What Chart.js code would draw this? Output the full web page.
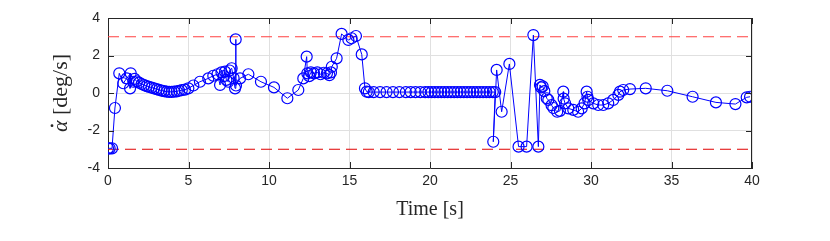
<!DOCTYPE html>
<html>
<head>
<meta charset="utf-8">
<script src="https://cdn.jsdelivr.net/npm/chart.js@4.4.1/dist/chart.umd.min.js"></script>
<style>
  html, body { margin: 0; padding: 0; background: #fff; }
</style>
</head>
<body>
<canvas id="rateChart" width="830" height="241"></canvas>
<script>
// time stamps [s] and yaw-rate samples [deg/s]
const timeS = [
  0.00, 0.10, 0.25, 0.43, 0.70, 0.95, 1.16, 1.41, 1.37, 1.57, 1.65, 1.78, 1.93, 2.09, 2.25, 2.40,
  2.55, 2.71, 2.86, 3.02, 3.17, 3.33, 3.48, 3.64, 3.80, 3.95, 4.11, 4.27, 4.42, 4.58, 4.78, 4.99,
  5.30, 5.71, 6.23, 6.54, 6.80, 6.96, 7.05, 7.20, 7.27, 7.35, 7.47, 7.55, 7.68, 7.80, 7.89, 7.93,
  7.95, 8.20, 8.72, 9.50, 10.31, 11.14, 11.82, 12.13, 12.34, 12.38, 12.50, 12.60, 12.80, 13.00,
  13.20, 13.40, 13.60, 13.75, 13.85, 13.90, 14.20, 14.51, 14.93, 15.13, 15.40, 15.76, 15.96, 16.07,
  16.20, 16.50, 16.90, 17.30, 17.70, 18.10, 18.50, 18.80, 19.10, 19.40, 19.70, 19.90, 20.10, 20.30,
  20.50, 20.70, 20.90, 21.10, 21.30, 21.50, 21.70, 21.90, 22.10, 22.30, 22.50, 22.70, 22.90, 23.10,
  23.30, 23.50, 23.70, 23.90, 24.05, 23.93, 24.14, 24.45, 24.93, 25.50, 26.00, 26.42, 26.73, 26.83,
  26.90, 27.00, 27.10, 27.25, 27.35, 27.55, 27.66, 27.90, 28.07, 28.28, 28.30, 28.39, 28.59, 28.90,
  29.20, 29.42, 29.60, 29.73, 29.78, 29.83, 30.14, 30.45, 30.76, 31.07, 31.38, 31.70, 31.80, 32.00,
  32.42, 33.40, 34.74, 36.31, 37.76, 38.97, 39.67, 39.88
];
const alphaDot = [
  -2.95, -2.95, -2.95, -0.80, 1.05, 0.52, 0.78, 1.05, 0.25, 0.60, 0.75, 0.62, 0.55, 0.48, 0.42, 0.37,
  0.33, 0.29, 0.25, 0.21, 0.17, 0.13, 0.10, 0.07, 0.06, 0.06, 0.07, 0.09, 0.12, 0.15, 0.18, 0.25,
  0.40, 0.60, 0.78, 0.92, 1.00, 0.43, 1.10, 0.90, 1.14, 0.70, 0.60, 1.20, 1.32, 0.80, 0.25, 2.86,
  0.40, 0.78, 1.00, 0.60, 0.30, -0.28, 0.16, 0.78, 1.94, 1.05, 0.90, 1.10, 1.05, 1.10,
  1.00, 1.08, 1.05, 0.95, 1.10, 1.40, 1.85, 3.15, 2.83, 2.92, 3.04, 2.06, 0.25, 0.07,
  0.05, 0.05, 0.05, 0.05, 0.05, 0.05, 0.05, 0.05, 0.05, 0.05, 0.05, 0.05, 0.05, 0.05,
  0.05, 0.05, 0.05, 0.05, 0.05, 0.05, 0.05, 0.05, 0.05, 0.05, 0.05, 0.05, 0.05, 0.05,
  0.05, 0.05, 0.05, 0.05, 0.05, -2.60, 1.23, -1.00, 1.55, -2.86, -2.86, 3.09, -2.86, 0.43,
  0.30, 0.35, 0.10, -0.28, -0.37, -0.65, -0.80, -1.00, -0.95, 0.07, -0.30, -0.55, -0.82, -0.90,
  -1.00, -0.82, -0.55, 0.07, -0.20, -0.37, -0.55, -0.64, -0.64, -0.55, -0.37, -0.10, 0.07, 0.16,
  0.21, 0.25, 0.12, -0.20, -0.50, -0.59, -0.23, -0.20
];
const rateLimits = [3, -3];
const timeRange = [0, 40];
const xTicks = [0, 5, 10, 15, 20, 25, 30, 35, 40];
const yTicks = [-4, -2, 0, 2, 4];

const axisColor = '#262626';
const points = timeS.map((t, i) => ({ x: t, y: alphaDot[i] }));
const limitLine = (v, color) => ({
  data: timeRange.map(t => ({ x: t, y: v })),
  borderColor: color,
  borderWidth: 1,
  borderDash: [11, 6],
  pointRadius: 0,
  showLine: true,
  order: 2
});

// y label with italic dotted alpha, and MATLAB style inward ticks + box
const decor = {
  id: 'decor',
  afterDraw(chart) {
    const { ctx, chartArea: a, scales: { x, y } } = chart;
    ctx.save();
    ctx.strokeStyle = axisColor;
    ctx.lineWidth = 1;
    ctx.beginPath();
    ctx.moveTo(a.left, a.top + 0.5); ctx.lineTo(a.right, a.top + 0.5);
    ctx.moveTo(a.right - 0.5, a.top); ctx.lineTo(a.right - 0.5, a.bottom);
    xTicks.forEach(v => {
      const px = Math.round(x.getPixelForValue(v)) + 0.5;
      ctx.moveTo(px, a.bottom); ctx.lineTo(px, a.bottom - 6);
      ctx.moveTo(px, a.top); ctx.lineTo(px, a.top + 6);
    });
    yTicks.forEach(v => {
      const py = Math.round(y.getPixelForValue(v)) + 0.5;
      ctx.moveTo(a.left, py); ctx.lineTo(a.left + 6, py);
      ctx.moveTo(a.right, py); ctx.lineTo(a.right - 6, py);
    });
    ctx.stroke();

    ctx.translate(60, (a.top + a.bottom) / 2);
    ctx.rotate(-Math.PI / 2);
    ctx.fillStyle = axisColor;
    ctx.textBaseline = 'alphabetic';
    const f1 = 'italic 22px "Liberation Serif"', f2 = '22px "Liberation Serif"';
    const s1 = 'α', s2 = ' [deg/s]';
    ctx.font = f1; const w1 = ctx.measureText(s1).width;
    ctx.font = f2; const w2 = ctx.measureText(s2).width;
    const sx = -(w1 + w2) / 2, base = 7;
    ctx.font = f1; ctx.fillText(s1, sx, base);
    ctx.font = f2; ctx.fillText(s2, sx + w1, base);
    // dot accent over alpha
    ctx.beginPath();
    ctx.arc(sx + w1 * 0.55, base - 15, 1.4, 0, Math.PI * 2);
    ctx.fill();
    ctx.restore();
  }
};

new Chart(document.getElementById('rateChart'), {
  type: 'scatter',
  data: {
    datasets: [
      {
        data: points,
        showLine: true,
        borderColor: '#0000ff',
        borderWidth: 1,
        pointStyle: 'circle',
        pointRadius: 5.5,
        pointBorderWidth: 1.2,
        pointBorderColor: '#0000ff',
        pointBackgroundColor: 'rgba(0,0,0,0)',
        order: 1
      },
      limitLine(rateLimits[0], '#ff4040'),
      limitLine(rateLimits[1], '#e00000')
    ]
  },
  options: {
    responsive: false,
    animation: false,
    devicePixelRatio: 1,
    layout: { padding: { left: 0, right: 78, top: 18, bottom: 0 } },
    plugins: { legend: { display: false }, tooltip: { enabled: false } },
    scales: {
      x: {
        type: 'linear',
        min: 0, max: 40,
        afterFit(s) { s.height = 73; },
        afterBuildTicks(s) { s.ticks = xTicks.map(v => ({ value: v })); },
        grid: { color: '#e0e0e0', drawTicks: false },
        border: { color: axisColor, width: 1 },
        ticks: { padding: 5, color: axisColor, font: { family: '"Liberation Sans"', size: 14 } },
        title: {
          display: true,
          text: 'Time [s]',
          color: axisColor,
          padding: { top: 0, bottom: 19 },
          font: { family: '"Liberation Serif"', size: 20 }
        }
      },
      y: {
        type: 'linear',
        min: -4, max: 4,
        afterFit(s) { s.width = 108; },
        afterBuildTicks(s) { s.ticks = yTicks.map(v => ({ value: v })); },
        grid: { color: '#e0e0e0', drawTicks: false },
        border: { color: axisColor, width: 1 },
        ticks: { padding: 8, color: axisColor, font: { family: '"Liberation Sans"', size: 14 } }
      }
    }
  },
  plugins: [decor]
});
</script>
</body>
</html>
